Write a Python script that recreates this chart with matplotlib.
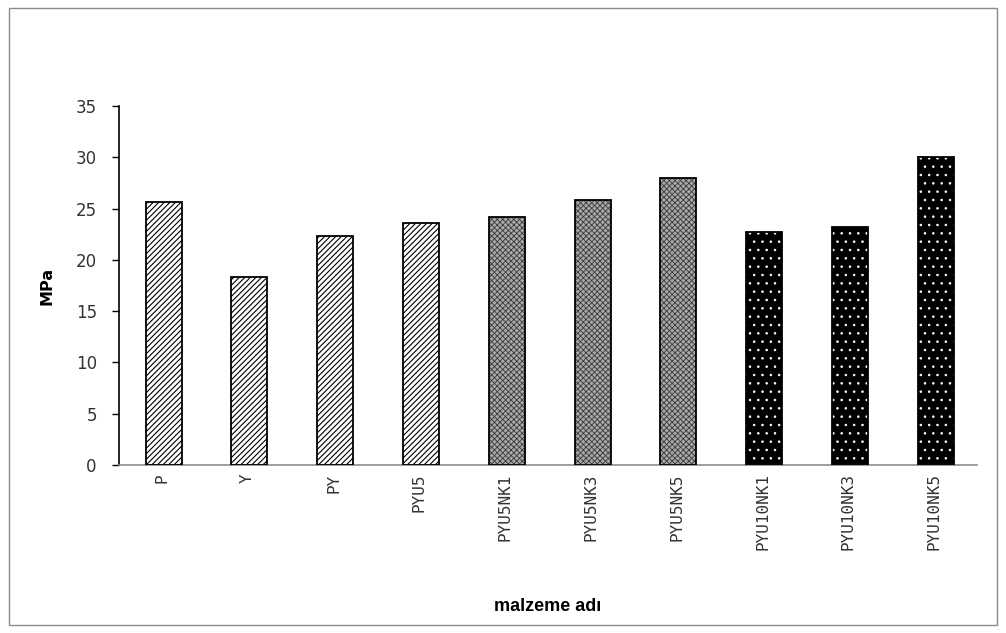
import matplotlib
matplotlib.use("Agg")
import matplotlib.pyplot as plt
from matplotlib.patches import Rectangle

categories = ["P", "Y", "PY", "PYU5", "PYU5NK1", "PYU5NK3", "PYU5NK5",
              "PYU10NK1", "PYU10NK3", "PYU10NK5"]
values = [25.6, 18.3, 22.3, 23.6, 24.2, 25.8, 28.0, 22.7, 23.2, 30.0]
groups = ["stripe"] * 4 + ["grey"] * 3 + ["dots"] * 3
yticks = [0, 5, 10, 15, 20, 25, 30, 35]

styles = {
    "stripe": dict(face="white", hatch="//////", hcolor="black", lw=0.8),
    "grey": dict(face="#a8a8a8", hatch="xxxxxx", hcolor="#3a3a3a", lw=0.6),
    "dots": dict(face="black", hatch="..", hcolor="white", lw=0.6),
}

fig = plt.figure(figsize=(10.06, 6.33), dpi=100)
fig.patches.append(Rectangle((0.009, 0.012), 0.982, 0.975, transform=fig.transFigure,
                             fill=False, edgecolor="#8c8c8c", linewidth=1.0))
ax = fig.add_axes([119/1006, 1-465/633, (977-119)/1006, (465-106)/633])

x = list(range(len(categories)))
width = 0.42
for xi, v, g in zip(x, values, groups):
    s = styles[g]
    plt.rcParams["hatch.linewidth"] = s["lw"]
    ax.bar(xi + 0.02, v, width=width, color=s["face"], hatch=s["hatch"],
           edgecolor=s["hcolor"], linewidth=0, zorder=2)
    ax.bar(xi + 0.02, v, width=width, fill=False, edgecolor="black", linewidth=1.3, zorder=3)

ax.set_xlim(-0.5, len(categories) - 0.5)
ax.set_ylim(0, 35)
ax.set_yticks(yticks)
ax.set_xticks(x)
ax.set_xticklabels(categories, rotation=90, fontsize=11.5, color="#333333",
                   family=["DejaVu Sans Mono", "DejaVu Sans"])
ax.tick_params(axis="x", length=0, pad=6)
ax.tick_params(axis="y", direction="out", length=5, width=1, labelsize=12,
               labelcolor="#333333", pad=11)
for side in ["top", "right"]:
    ax.spines[side].set_visible(False)
ax.spines["left"].set_linewidth(1.2)
ax.spines["bottom"].set_color("#8c8c8c")
ax.spines["bottom"].set_linewidth(1.2)

ax.set_ylabel("MPa", fontsize=11.5, fontweight="bold", labelpad=15)
ax.set_xlabel("malzeme adı", fontsize=13, fontweight="bold",
              family=["Liberation Sans", "DejaVu Sans"], labelpad=34)

fig.savefig("out.png", dpi=100)
